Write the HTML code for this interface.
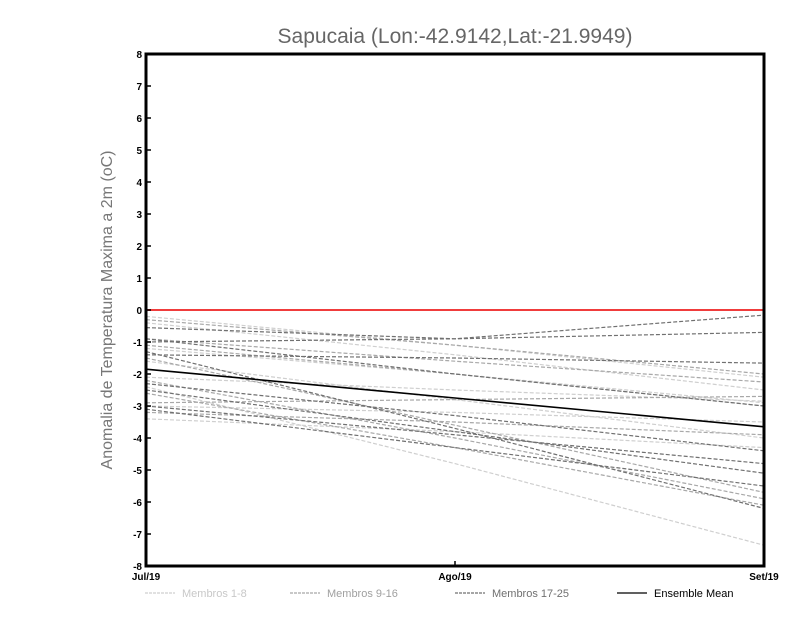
<!DOCTYPE html>
<html><head><meta charset="utf-8"><style>
body{margin:0;background:#fff;}
svg{display:block;font-family:"Liberation Sans",sans-serif;}
</style></head><body>
<svg id="chart" width="800" height="618">
<text x="455" y="43" text-anchor="middle" font-size="21" fill="#666">Sapucaia (Lon:-42.9142,Lat:-21.9949)</text>
<text transform="translate(112,310) rotate(-90)" text-anchor="middle" font-size="16" fill="#777">Anomalia de Temperatura Maxima a 2m (oC)</text>
<g id="marks"></g>
<rect x="146" y="54" width="618" height="512" fill="none" stroke="#000" stroke-width="3"/>
<g id="axes"></g>
<g id="legend"></g>
</svg>
<script>
const categories = ["Jul/19","Ago/19","Set/19"];
const yTicks = [-8,-7,-6,-5,-4,-3,-2,-1,0,1,2,3,4,5,6,7,8];
const members1to8 = [
 [-0.2,-1.1,-2.1],[-1.2,-2.0,-2.9],[-2.4,-4.8,-7.35],[-3.4,-3.8,-4.3],
 [-2.1,-2.5,-2.85],[-0.4,-1.4,-2.5],[-3.0,-3.2,-3.5],[-1.6,-2.8,-4.0]
];
const members9to16 = [
 [-0.3,-1.1,-2.0],[-1.5,-3.6,-5.7],[-2.6,-4.3,-6.1],[-3.2,-3.5,-3.9],
 [-0.9,-1.6,-2.25],[-2.9,-2.8,-2.7],[-1.1,-2.0,-3.0],[-2.2,-4.0,-5.9]
];
const members17to25 = [
 [-0.55,-0.9,-0.16],[-1.0,-0.9,-0.7],[-1.4,-1.5,-1.66],[-0.9,-2.0,-3.0],
 [-2.3,-3.3,-4.4],[-3.0,-3.9,-4.8],[-1.3,-3.7,-6.2],[-3.1,-4.3,-5.5],[-2.5,-3.8,-5.1]
];
const ensembleMean = [-1.85,-2.75,-3.65];
const X0=146,X1=764,Y0=566,Y1=54;
const xs=i=>X0+(X1-X0)*i/(categories.length-1);
const ys=v=>Y0-(v+8)/16*(Y0-Y1);
const NS="http://www.w3.org/2000/svg";
const marks=document.getElementById('marks'),axes=document.getElementById('axes'),legend=document.getElementById('legend');
function mk(t,a,p){const e=document.createElementNS(NS,t);for(const k in a)e.setAttribute(k,a[k]);p.appendChild(e);return e;}
function series(arr,color,name,dash){arr.forEach((m,j)=>{
 const pl=mk('polyline',{points:m.map((v,i)=>xs(i)+','+ys(v)).join(' '),fill:'none',stroke:color,'stroke-width':1.2,'stroke-dasharray':dash},marks);
 
 
});}
series(members1to8,'#cfcfcf','member-line-a','4,2');
series(members9to16,'#a8a8a8','member-line-b','4,2');
series(members17to25,'#707070','member-line-c','4,2');
const zl=mk('line',{x1:X0,x2:X1,y1:ys(0),y2:ys(0),stroke:'#f03c3c','stroke-width':2},marks);


const ml=mk('polyline',{points:ensembleMean.map((v,i)=>xs(i)+','+ys(v)).join(' '),fill:'none',stroke:'#000','stroke-width':1.6},marks);


yTicks.forEach(v=>{
 const y=ys(v);
 mk('line',{x1:X0,x2:X0+5,y1:y,y2:y,stroke:'#000','stroke-width':1.5},axes);
 const t=mk('text',{x:X0-4,y:y+4,'text-anchor':'end','font-size':10,'font-weight':'bold'},axes);
 t.textContent=v;
 
 
});
categories.forEach((c,i)=>{
 const x=xs(i);
 mk('line',{x1:x,x2:x,y1:Y0,y2:Y0-5,stroke:'#000','stroke-width':1.5},axes);
 const t=mk('text',{x:x,y:Y0+14,'text-anchor':'middle','font-size':10,'font-weight':'bold'},axes);
 t.textContent=c;
 
 
});
const leg=[["Membros 1-8","#cfcfcf","#c8c8c8",145,'3,1'],["Membros 9-16","#a8a8a8","#a0a0a0",290,'3,1'],["Membros 17-25","#707070","#707070",455,'3,1'],["Ensemble Mean","#000","#000",617,'none']];
leg.forEach(l=>{
 const g=mk('g',{},legend);
 
 
 mk('line',{x1:l[3],x2:l[3]+30,y1:593,y2:593,stroke:l[1],'stroke-width':1.2,'stroke-dasharray':l[4]},g);
 const t=mk('text',{x:l[3]+37,y:597,'font-size':11,fill:l[2]},g);
 t.textContent=l[0];
});
</script>
</body></html>
